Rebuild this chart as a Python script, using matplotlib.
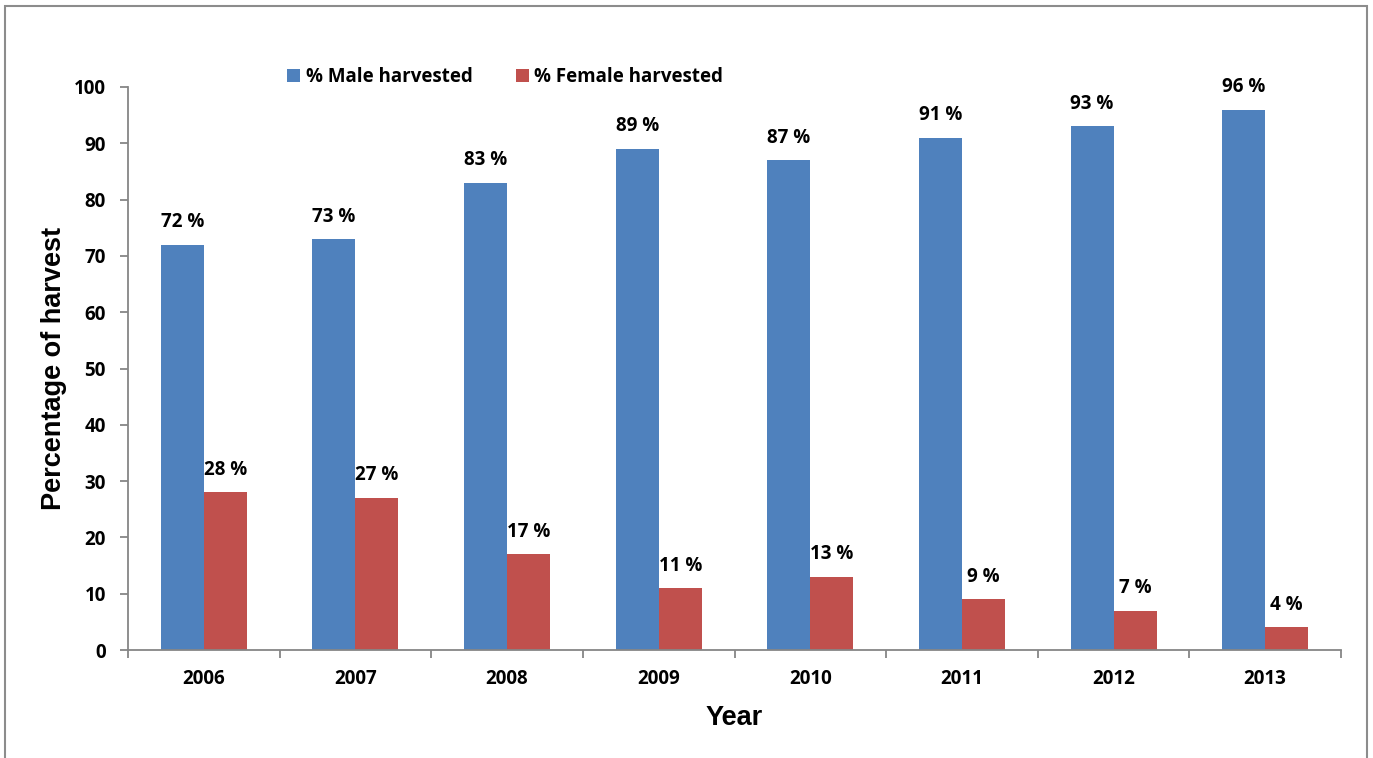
import matplotlib
matplotlib.use("Agg")
import matplotlib.pyplot as plt
from matplotlib.patches import Rectangle
import numpy as np

years = ["2006", "2007", "2008", "2009", "2010", "2011", "2012", "2013"]
male = [72, 73, 83, 89, 87, 91, 93, 96]
female = [28, 27, 17, 11, 13, 9, 7, 4]
male_labels = ["72 %", "73 %", "83 %", "89 %", "87 %", "91 %", "93 %", "96 %"]
female_labels = ["28 %", "27 %", "17 %", "11 %", "13 %", "9 %", "7 %", "4 %"]
yticks = [0, 10, 20, 30, 40, 50, 60, 70, 80, 90, 100]

BLUE = "#4F81BD"
RED = "#C0504D"
GREY = "#868686"
LFONT = "Open Sans"
TFONT = "Liberation Sans"
FS = 13.5

fig = plt.figure(figsize=(13.73, 7.58), dpi=100)
ax = fig.add_axes([128/1373, 1-650/758, (1341-128)/1373, (650-87)/758])

x = np.arange(len(years))
w = 0.284
b1 = ax.bar(x - w/2, male, w, color=BLUE, label="% Male harvested")
b2 = ax.bar(x + w/2, female, w, color=RED, label="% Female harvested")

for xi, v, t in zip(x - w/2, male, male_labels):
    ax.annotate(t, (xi, v), xytext=(0, 9), textcoords="offset points",
                ha="center", va="bottom", fontsize=FS, fontweight="bold", family=LFONT)
for xi, v, t in zip(x + w/2, female, female_labels):
    ax.annotate(t, (xi, v), xytext=(0, 9), textcoords="offset points",
                ha="center", va="bottom", fontsize=FS, fontweight="bold", family=LFONT)

ax.set_xlim(-0.5, len(years) - 0.5)
ax.set_ylim(0, 100)
ax.set_yticks(yticks)
ax.set_xticks(x)
ax.set_xticklabels(years)
ax.set_xticks(np.arange(-0.5, len(years), 1.0), minor=True)

for s in ["top", "right"]:
    ax.spines[s].set_visible(False)
for s in ["left", "bottom"]:
    ax.spines[s].set_color(GREY)
    ax.spines[s].set_linewidth(1.3)

ax.tick_params(axis="y", direction="out", length=6, color=GREY, width=1.3, pad=10)
ax.tick_params(axis="x", which="major", length=0, pad=14)
ax.tick_params(axis="x", which="minor", direction="out", length=6, color=GREY, width=1.3)
for lab in ax.get_xticklabels() + ax.get_yticklabels():
    lab.set_fontsize(FS)
    lab.set_fontweight("bold")
    lab.set_family(LFONT)

ax.set_ylabel("Percentage of harvest", fontsize=19.5, fontweight="bold", family=TFONT)
ax.set_xlabel("Year", fontsize=19.5, fontweight="bold", family=TFONT)
ax.yaxis.set_label_coords(-0.050, 0.5)
ax.xaxis.set_label_coords(0.5, -0.098)

leg = fig.legend(handles=[b1, b2], loc="center", bbox_to_anchor=(505/1373, 1-77/758),
                 ncol=2, frameon=False, handlelength=0.7, handleheight=0.7,
                 handletextpad=0.3, columnspacing=2.3,
                 prop={"family": LFONT, "weight": "bold", "size": FS})

fig.patches.append(Rectangle((5/1373, -0.1), (1367-5)/1373, 1.1 - 6/758,
                             transform=fig.transFigure, fill=False,
                             edgecolor="#8C8C8C", linewidth=1.5))

fig.savefig("out.png", dpi=100)
